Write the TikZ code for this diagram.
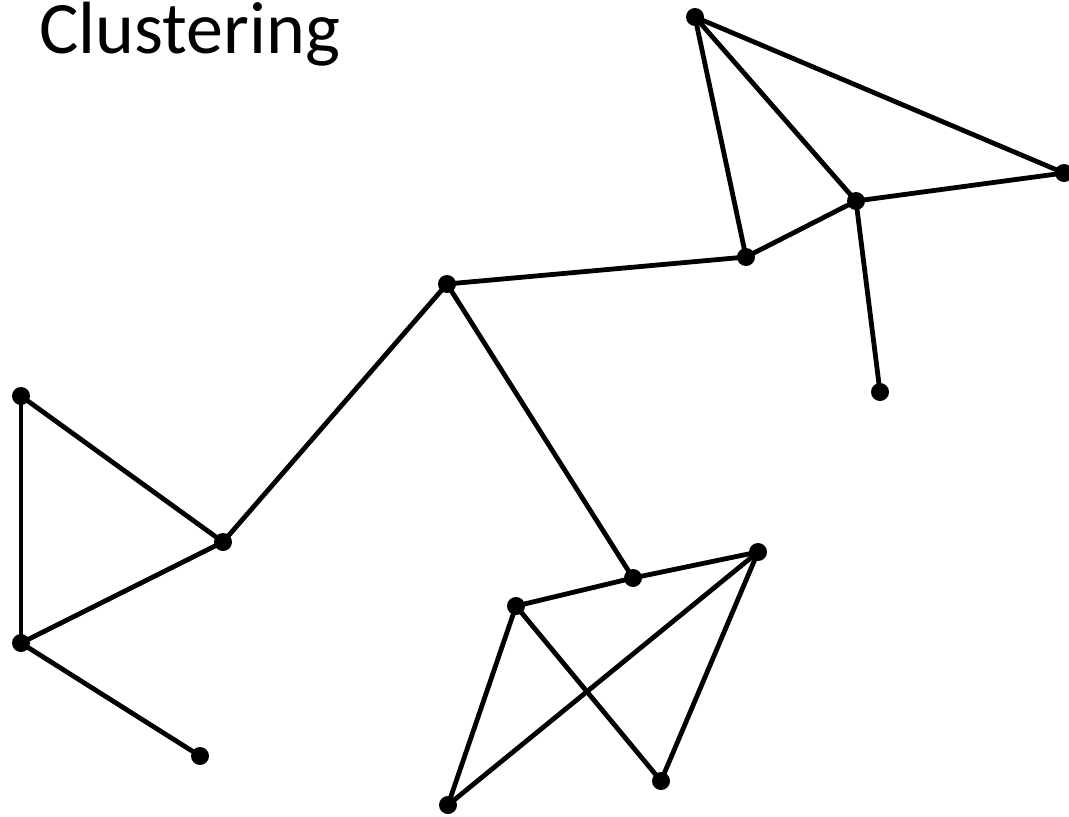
\documentclass[tikz,border=0pt]{standalone}
\usepackage{fontspec}
\setmainfont{Carlito}
\begin{document}
\begin{tikzpicture}[x=1pt,y=-1pt,
  vtx/.style={circle,fill=black,inner sep=0pt,minimum size=18pt},
  edge/.style={line width=4.8pt,black}]
\useasboundingbox (0,0) rectangle (1069,817);
\node[anchor=base west,inner sep=0pt,font=\fontsize{74}{80}\selectfont] (title) at (39,53) {Clustering};
\node[vtx] (A) at (695,17) {};
\node[vtx] (B) at (1064,173) {};
\node[vtx] (C) at (856,201) {};
\node[vtx] (D) at (746,257) {};
\node[vtx] (E) at (880,392) {};
\node[vtx] (F) at (447,284) {};
\node[vtx] (G) at (21,396) {};
\node[vtx] (H) at (223,542) {};
\node[vtx] (I) at (21,643) {};
\node[vtx] (J) at (200,756) {};
\node[vtx] (K) at (633,578) {};
\node[vtx] (L) at (758,552) {};
\node[vtx] (M) at (516,606) {};
\node[vtx] (N) at (661,781) {};
\node[vtx] (O) at (448,805) {};
\foreach \a/\b in {A/B,A/C,A/D,C/B,C/D,C/E,D/F,F/H,F/K,G/H,G/I,H/I,I/J,K/M,K/L,M/O,M/N,L/O,L/N}
  \draw[edge] (\a.center) -- (\b.center);
\end{tikzpicture}
\end{document}
